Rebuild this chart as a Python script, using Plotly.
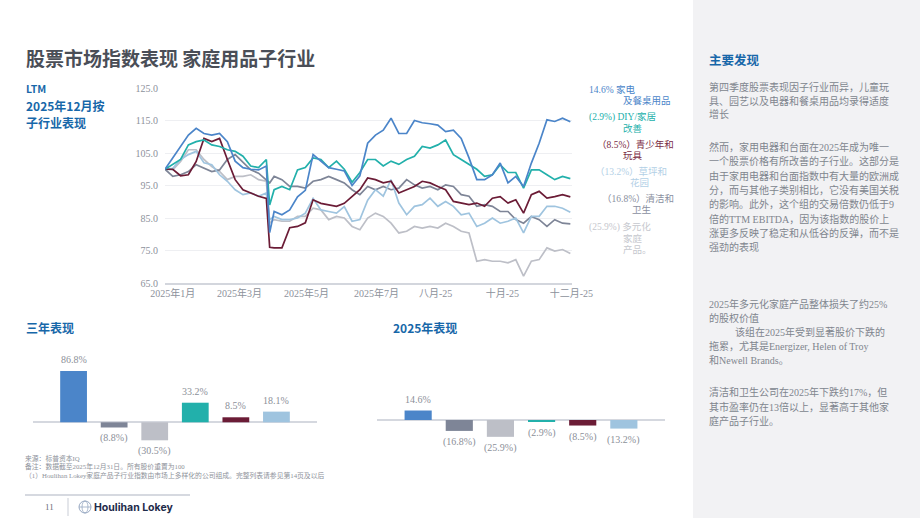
import plotly.graph_objects as go

W, H = 920, 518

# ---------------- data ----------------
dates = ["2024-12-31", "2025-01-07", "2025-01-14", "2025-01-21", "2025-01-28", "2025-02-04",
         "2025-02-11", "2025-02-18", "2025-02-25", "2025-03-04", "2025-03-11", "2025-03-18",
         "2025-03-25", "2025-04-01", "2025-04-04", "2025-04-08", "2025-04-15", "2025-04-22",
         "2025-04-29", "2025-05-06", "2025-05-13", "2025-05-20", "2025-05-27", "2025-06-03",
         "2025-06-10", "2025-06-17", "2025-06-24", "2025-07-01", "2025-07-08", "2025-07-15",
         "2025-07-22", "2025-07-29", "2025-08-05", "2025-08-12", "2025-08-19", "2025-08-26",
         "2025-09-02", "2025-09-09", "2025-09-16", "2025-09-23", "2025-09-30", "2025-10-07",
         "2025-10-14", "2025-10-21", "2025-10-28", "2025-11-04", "2025-11-11", "2025-11-18",
         "2025-11-25", "2025-12-02", "2025-12-09", "2025-12-16", "2025-12-23", "2025-12-30"]

appliances = [100, 103.5, 107, 110.5, 112.6, 111, 110.5, 111, 108.5, 102.5, 100.5, 100, 99.8, 101,
              80.5, 87, 86, 87.5, 91.5, 93.5, 104.5, 102.5, 100.5, 100, 99.5, 95, 98, 108,
              110.5, 112, 115.7, 111, 111, 115, 114.3, 114, 113.6, 111.6, 112, 109.5, 103.5,
              96.8, 96.8, 98.3, 101.9, 95.8, 97.8, 94.7, 101.9, 108, 115.2, 114.7, 115.7, 114.6]
diy = [100, 101.4, 103, 107.5, 108.5, 109, 107.5, 107, 106, 105.5, 104, 101, 100.5, 103,
       89, 93.7, 94.7, 93.7, 99.8, 100.5, 103.5, 103, 100.5, 102.5, 100, 96, 99, 103,
       103, 101, 102.5, 101.5, 103, 104, 107, 106.5, 107.5, 109, 104.5, 103, 101.4, 100,
       97.8, 98.3, 101.4, 99, 99, 94.2, 99.8, 99.8, 98.3, 96.8, 97.8, 97.1]
toys = [100, 100, 98, 98.3, 102.4, 109.5, 108.5, 109.5, 103, 96.8, 93.7, 92.7, 91.7, 91,
        76, 75.8, 75.8, 82, 82.4, 83.5, 90.6, 89.5, 89, 88.6, 89.5, 91.6, 93.7, 97.3,
        96.8, 95.8, 96.3, 92.7, 93.7, 94.7, 96.3, 95.8, 94.7, 93.7, 90.1, 89.6, 89.1, 89.6,
        88.6, 91.1, 91.6, 89.6, 90.6, 86.5, 92.2, 93.2, 91.1, 91.6, 92.2, 91.5]
lawn = [100, 100.3, 103, 104.5, 105.5, 102, 101.4, 98.3, 96.3, 93.7, 92.2, 92.7, 91.7, 92.7,
        84.5, 85.5, 84.5, 84.5, 85, 86.5, 91, 87.5, 87, 86.5, 88.5, 84, 84.5, 90.5,
        93.7, 91.7, 96.8, 89.6, 86, 88.6, 89.1, 91.1, 88.6, 90.1, 88.6, 86, 86.5, 82.4,
        83.4, 85, 83.4, 84, 85, 80.4, 85.5, 85.5, 88.6, 88.6, 88, 86.8]
cleaning = [100, 97.8, 98.3, 99.3, 101.4, 100.3, 99.3, 99.8, 103, 104.5, 102, 99.8, 98.8, 96.8,
            95.8, 97.8, 96.8, 94.7, 94.7, 94.2, 96.3, 96.8, 97.8, 96.8, 95.8, 93.7, 92.2, 94.7,
            93.7, 94.7, 93.7, 94.2, 96.8, 95.2, 94.2, 94.7, 93.7, 95.2, 94.7, 92.2, 91.7, 88.6,
            89.1, 88.6, 87, 87, 84.5, 83.4, 85.5, 84.5, 82.4, 84.5, 83.4, 83.2]
diversified = [100, 99.8, 102.4, 106, 106, 103, 100.8, 99.3, 96.8, 97.8, 97.8, 98.3, 96.8, 96.3,
               83.4, 84.5, 84, 84, 85.5, 85.5, 88, 87.5, 84.5, 85.5, 85, 82.4, 81.4, 85,
               86.5, 85.5, 83.4, 80.4, 80.9, 82.4, 81.9, 82.4, 81.9, 83.4, 82.4, 80.9, 80.4, 71.7,
               72.2, 71.7, 71.7, 71.2, 72.2, 67.1, 71.7, 72.2, 75.8, 74.8, 75.3, 74.1]

y_ticks = [65, 75, 85, 95, 105, 115, 125]
x_tick_dates = ["2025-01-07", "2025-03-08", "2025-05-07", "2025-07-09", "2025-08-31", "2025-10-30", "2025-12-31"]
x_tick_text = ["2025年1月", "2025年3月", "2025年5月", "2025年7月", "八月-25", "十月-25", "十二月-25"]

bar_categories = ["家电及餐桌用品", "清洁和卫生", "多元化家庭产品", "DIY/家居改善", "青少年和玩具", "草坪和花园"]
three_year = [86.8, -8.8, -30.5, 33.2, 8.5, 18.1]
ytd_2025 = [14.6, -16.8, -25.9, -2.9, -8.5, -13.2]

# series label text (first line, continuation lines)
series_labels = [
    ["14.6% 家电", "及餐桌用品"],
    ["(2.9%) DIY/家居", "改善"],
    ["（8.5%）青少年和", "玩具"],
    ["（13.2%）草坪和", "花园"],
    ["（16.8%）清洁和", "卫生"],
    ["(25.9%) 多元化", "家庭", "产品。"],
]

# ---------------- styles ----------------
C_BLUE = "#4B85C9"
C_TEAL = "#22B0AB"
C_MAROON = "#6B1C36"
C_LBLUE = "#9FC4DF"
C_SLATE = "#7E8597"
C_LGRAY = "#BDBFC7"
HEAD = "#1767A9"
TXT = "#80858E"
SERIF = "Liberation Serif, Noto Sans CJK SC"
CJK = "Noto Sans CJK SC"

bar_colors = [C_BLUE, C_SLATE, C_LGRAY, C_TEAL, C_MAROON, C_LBLUE]


def px(x):
    return x / W


def py(y):
    return 1 - y / H


fig = go.Figure()

line_series = [
    (diversified, C_LGRAY),
    (cleaning, C_SLATE),
    (lawn, C_LBLUE),
    (toys, C_MAROON),
    (diy, C_TEAL),
    (appliances, C_BLUE),
]
for vals, col in line_series:
    fig.add_trace(go.Scatter(x=dates, y=vals, mode="lines", line=dict(color=col, width=1.7),
                             xaxis="x", yaxis="y", showlegend=False, hoverinfo="skip"))

fig.add_trace(go.Bar(x=bar_categories, y=three_year, marker=dict(color=bar_colors, line=dict(width=0)),
                     width=0.66, xaxis="x2", yaxis="y2", showlegend=False, hoverinfo="skip"))
fig.add_trace(go.Bar(x=bar_categories, y=ytd_2025, marker=dict(color=bar_colors, line=dict(width=0)),
                     width=0.66, xaxis="x3", yaxis="y3", showlegend=False, hoverinfo="skip"))

annotations = []


def text(x, y, s, size=10, color=TXT, family=SERIF, xanchor="left", bold=False):
    annotations.append(dict(x=px(x - 2), y=py(y), xref="paper", yref="paper",
                            text=f"<b>{s}</b>" if bold else s,
                            showarrow=False, xanchor=xanchor, yanchor="middle",
                            font=dict(size=size, color=color, family=family)))


# title and headings
text(26, 57, "股票市场指数表现 家庭用品子行业", size=19, color="#4A4E57", family=CJK, bold=True)
text(26, 88, "LTM", size=10.5, color=HEAD, family=CJK, bold=True)
text(26, 105, "2025年12月按", size=12, color=HEAD, family=CJK, bold=True)
text(26, 123, "子行业表现", size=12, color=HEAD, family=CJK, bold=True)
text(26, 327, "三年表现", size=12, color=HEAD, family=CJK, bold=True)
text(393, 327, "2025年表现", size=12, color=HEAD, family=CJK, bold=True)

# series labels
label_colors = [C_BLUE, C_TEAL, "#7A2C45", "#B3D0E6", "#8A8FA0", "#C6C8CE"]
first_x = [589, 589, 597, 595, 602, 589]
cont_x = [[623], [623], [623], [630], [632], [623, 623]]
first_y = [89, 117, 144, 171, 198, 227]
for i, lines in enumerate(series_labels):
    text(first_x[i], first_y[i], lines[0], size=9.5, color=label_colors[i])
    for j, ln in enumerate(lines[1:]):
        text(cont_x[i][j], first_y[i] + 11.5 * (j + 1), ln, size=9.5, color=label_colors[i])

# bar value labels
for xa, ya, vals in (("x2", "y2", three_year), ("x3", "y3", ytd_2025)):
    for cat, v in zip(bar_categories, vals):
        lab = f"{v:.1f}%" if v >= 0 else f"({abs(v):.1f}%)"
        annotations.append(dict(x=cat, y=v, xref=xa, yref=ya, text=lab, showarrow=False,
                                yanchor="bottom" if v >= 0 else "top", yshift=4 if v >= 0 else -3,
                                font=dict(size=10, color="#8C9099", family=SERIF)))

# right panel
text(709, 59, "主要发现", size=12.5, color=HEAD, family=CJK, bold=True)
p1 = ["第四季度股票表现因子行业而异，儿童玩", "具、园艺以及电器和餐桌用品均录得适度", "增长"]
for i, s in enumerate(p1):
    text(709, 87 + 13.6 * i, s)
p2 = ["然而，家用电器和台面在2025年成为唯一", "一个股票价格有所改善的子行业。这部分是",
      "由于家用电器和台面指数中有大量的欧洲成", "分，而与其他子类别相比，它没有美国关税",
      "的影响。此外，这个组的交易倍数仍低于9", "倍的TTM EBITDA，因为该指数的股价上",
      "涨更多反映了稳定和从低谷的反弹，而不是", "强劲的表现"]
for i, s in enumerate(p2):
    text(709, 147 + 14.3 * i, s)
p3 = ["2025年多元化家庭产品整体损失了约25%", "的股权价值", "该组在2025年受到显著股价下跌的",
      "拖累，尤其是Energizer, Helen of Troy", "和Newell Brands。"]
for i, s in enumerate(p3):
    text(735 if i == 2 else 709, 304 + 14 * i, s)
p4 = ["清洁和卫生公司在2025年下跌约17%，但", "其市盈率仍在13倍以上，显著高于其他家", "庭产品子行业。"]
for i, s in enumerate(p4):
    text(709, 392 + 14.5 * i, s)

# footnotes
notes = ["来源：标普资本IQ", "备注：数据截至2025年12月31日。所有股价重置为100",
         "（1）Houlihan Lokey家庭产品子行业指数由市场上多样化的公司组成。完整列表请参见第14页及以后"]
for i, s in enumerate(notes):
    text(25, 458 + 8.5 * i, s, size=6.8, color="#8E929A")

text(45, 507, "11", size=9, color="#6C7079")
text(94, 507, "Houlihan Lokey", size=10.5, color="#1E2B4A", family="Inter, Roboto", bold=True)

shapes = [
    dict(type="rect", xref="paper", yref="paper", x0=px(693), x1=1, y0=0, y1=1,
         fillcolor="#F2F2F4", line=dict(width=0), layer="below"),
    dict(type="line", xref="paper", yref="paper", x0=px(25), x1=px(190), y0=py(495), y1=py(495),
         line=dict(color="#C9CDD6", width=1.5)),
    dict(type="line", xref="paper", yref="paper", x0=px(68), x1=px(68), y0=py(498), y1=py(516),
         line=dict(color="#C9CDD6", width=1)),
    dict(type="circle", xref="paper", yref="paper", x0=px(79), x1=px(91), y0=py(513), y1=py(501),
         line=dict(color="#97A8C2", width=1)),
    dict(type="circle", xref="paper", yref="paper", x0=px(82), x1=px(88), y0=py(513), y1=py(501),
         line=dict(color="#97A8C2", width=0.8)),
    dict(type="line", xref="paper", yref="paper", x0=px(79), x1=px(91), y0=py(507), y1=py(507),
         line=dict(color="#97A8C2", width=0.8)),
]

axis_font = dict(family=SERIF, size=10, color="#8C919B")

fig.update_layout(
    template="none",
    width=W, height=H, margin=dict(l=0, r=0, t=0, b=0, pad=0, autoexpand=False),
    autosize=False, showlegend=False,
    paper_bgcolor="white", plot_bgcolor="white",
    annotations=annotations, shapes=shapes, bargap=0.34,
    xaxis=dict(domain=[px(165), px(572)], type="date", range=["2024-12-31", "2025-12-31 12:00"],
               tickvals=x_tick_dates, ticktext=x_tick_text, tickfont=axis_font, ticks="",
               showgrid=False, showline=True, linecolor="#D3D6DD", linewidth=1.5, zeroline=False,
               anchor="y", automargin=False),
    yaxis=dict(domain=[py(283), py(88)], range=[65, 125], tickvals=y_ticks, tickformat=".1f",
               tickfont=axis_font, ticks="", showgrid=True, gridcolor="#EEEFF2", gridwidth=1, zeroline=False,
               showline=False, anchor="x", ticklabelstandoff=6, automargin=False),
    xaxis2=dict(domain=[px(33), px(317)], range=[-1, 6], showticklabels=False, showgrid=False,
                zeroline=False, showline=False, anchor="y2", type="category", automargin=False),
    yaxis2=dict(domain=[py(450), py(355)], range=[-(450 - 422.3) / 0.59, (422.3 - 355) / 0.59],
                showticklabels=False, showgrid=False, zeroline=True, zerolinecolor="#D5D8DF",
                zerolinewidth=1.5, anchor="x2", automargin=False),
    xaxis3=dict(domain=[px(377), px(665)], range=[-1, 6], showticklabels=False, showgrid=False,
                zeroline=False, showline=False, anchor="y3", type="category", automargin=False),
    yaxis3=dict(domain=[py(450), py(380)], range=[-(450 - 420) / 0.65, (420 - 380) / 0.65],
                showticklabels=False, showgrid=False, zeroline=True, zerolinecolor="#D5D8DF",
                zerolinewidth=1.5, anchor="x3", automargin=False),
)

fig.write_html("out.html")
